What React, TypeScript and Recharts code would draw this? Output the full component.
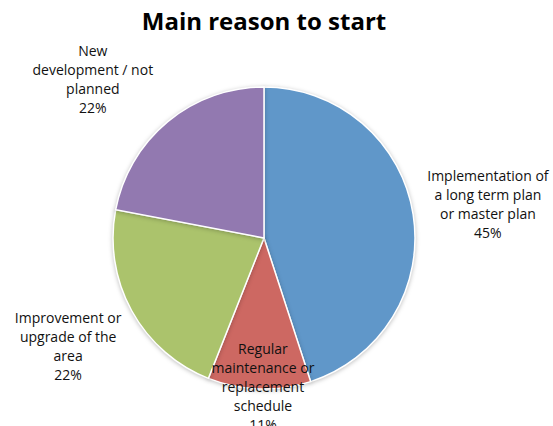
import React from "react";
import { PieChart, Pie, Cell } from "recharts";

const categories = [
  "Implementation of|a long term plan|or master plan",
  "Regular|maintenance or|replacement|schedule",
  "Improvement or|upgrade of the|area",
  "New|development / not|planned",
];
const values = [45, 11, 22, 22];
const colors = ["#6097c9", "#cd6862", "#abc36c", "#9279b0"];

const data = categories.map((name, i) => ({ name, value: values[i] }));

const RAD = Math.PI / 180;
const radiusFactor = [1.5, 0.98, 1.48, 1.55];
const angleShift = [-0.3, 1.4, 0, 7.4];
const LINE = 19;

const renderLabel = (props: any) => {
  const { cx, cy, midAngle, outerRadius, index, name, percent } = props;
  const a = (midAngle + angleShift[index]) * RAD;
  const r = outerRadius * radiusFactor[index];
  const x = cx + r * Math.cos(a);
  const y = cy - r * Math.sin(a);
  const lines = String(name).split("|").concat([`${Math.round(percent * 100)}%`]);
  const startY = y - ((lines.length - 1) * LINE) / 2;
  return (
    <text
      x={x}
      y={startY}
      textAnchor="middle"
      dominantBaseline="central"
      fill="#111111"
      style={{ fontFamily: "'Open Sans', sans-serif", fontSize: 14 }}
    >
      {lines.map((l, i) => (
        <tspan key={i} x={x} y={startY + i * LINE}>
          {l}
        </tspan>
      ))}
    </text>
  );
};

export default function App() {
  return (
    <div style={{ position: "absolute", left: 0, top: 0, width: 553, height: 426, background: "#fff", overflow: "hidden" }}>
      <div
        style={{
          position: "absolute",
          left: 0,
          top: 4,
          width: 528,
          textAlign: "center",
          fontFamily: "'Open Sans', sans-serif",
          fontWeight: 700,
          fontSize: 24,
          color: "#000",
        }}
      >
        Main reason to start
      </div>
      <PieChart width={553} height={426} margin={{ top: 0, right: 0, bottom: 0, left: 0 }}>
        <Pie
          data={data}
          dataKey="value"
          nameKey="name"
          cx={264}
          cy={238}
          outerRadius={151}
          startAngle={90}
          endAngle={-270}
          stroke="#ffffff"
          strokeWidth={1.5}
          label={renderLabel}
          labelLine={false}
          isAnimationActive={false}
          style={{ filter: "drop-shadow(0px 1px 2px rgba(0,0,0,0.25))" }}
        >
          {data.map((d, i) => (
            <Cell key={d.name} fill={colors[i]} />
          ))}
        </Pie>
      </PieChart>
    </div>
  );
}
